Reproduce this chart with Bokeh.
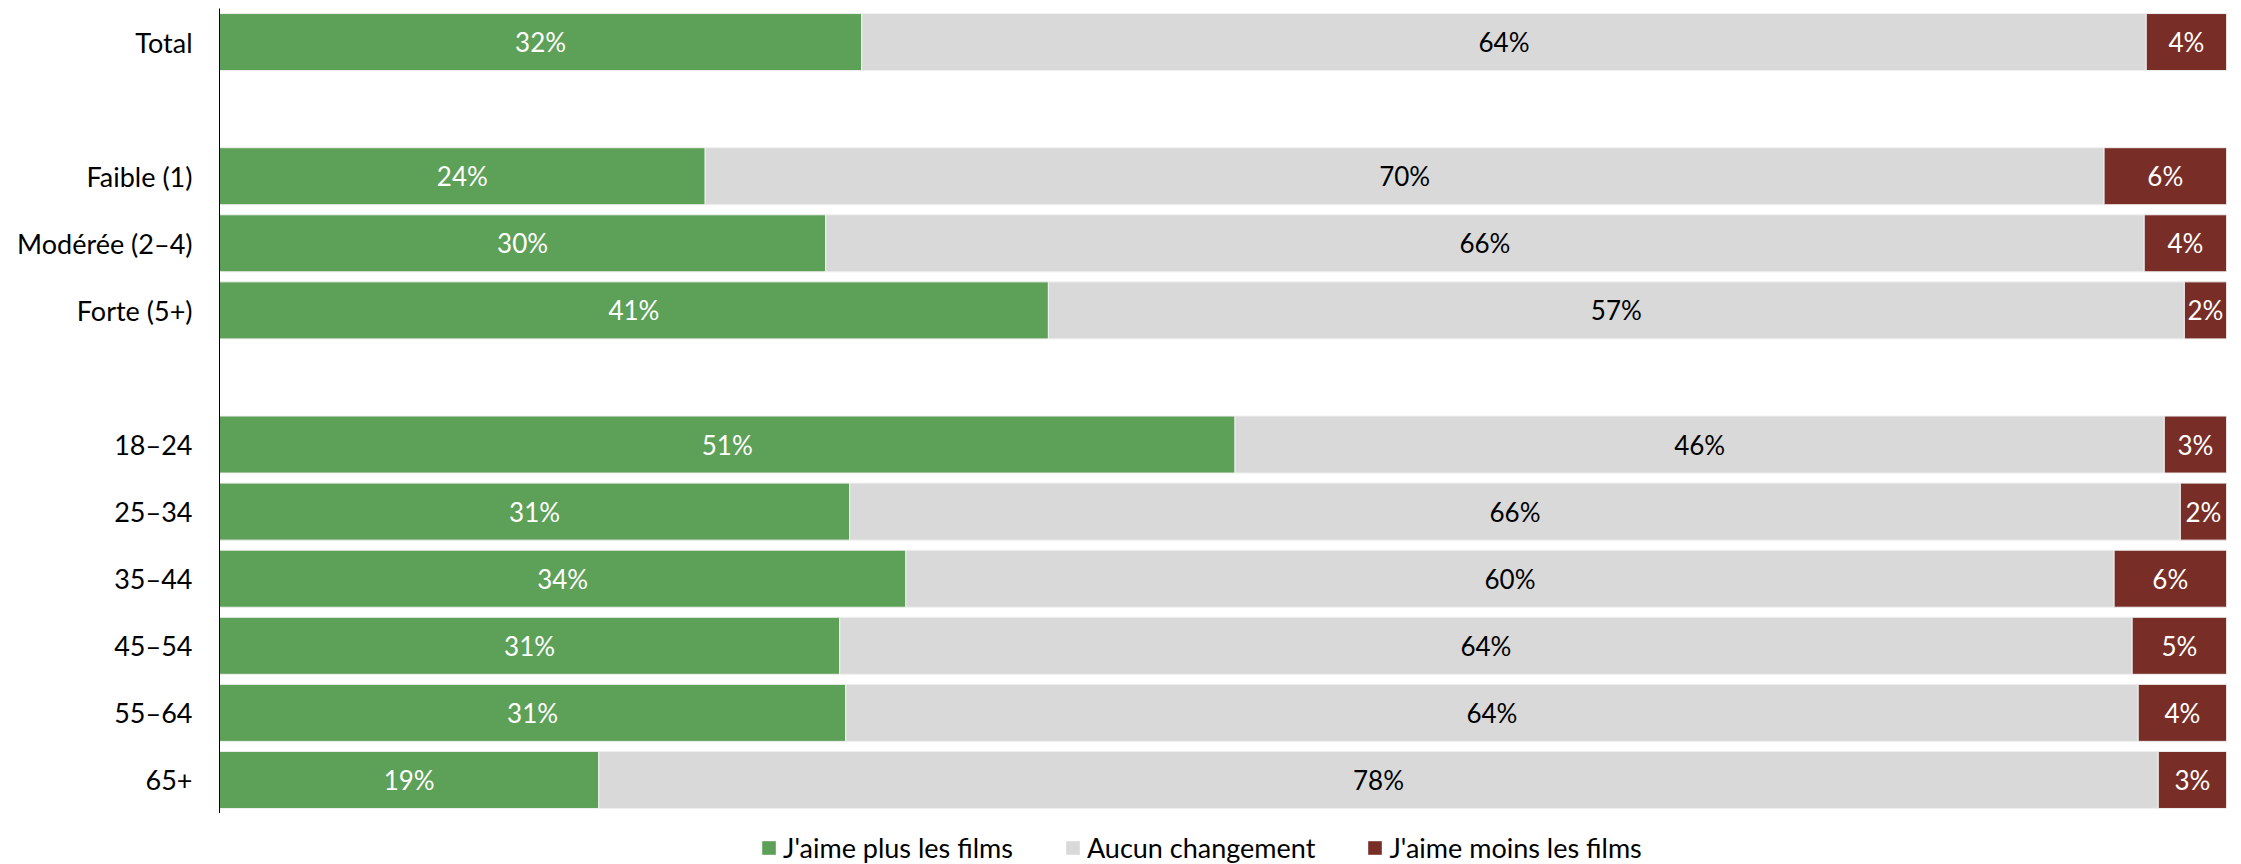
from bokeh.plotting import figure
from bokeh.layouts import column
from bokeh.models import ColumnDataSource, Range1d, FixedTicker, Legend, LegendItem
from bokeh.core.properties import value
from bokeh.embed import file_html
from bokeh.resources import INLINE

# ---- data ----
groups = [
    ["Total"],
    ["Faible (1)", "Modérée (2–4)", "Forte (5+)"],
    ["18–24", "25–34", "35–44", "45–54", "55–64", "65+"],
]
plus_films = [32.0, 24.2, 30.2, 41.3, 50.6, 31.4, 34.2, 30.9, 31.2, 18.9]
aucun_changement = [64.0, 69.7, 65.7, 56.6, 46.3, 66.3, 60.2, 64.4, 64.4, 77.7]
moins_films = [4.0, 6.1, 4.1, 2.1, 3.1, 2.3, 5.6, 4.7, 4.4, 3.4]
series_names = ["J'aime plus les films", "Aucun changement", "J'aime moins les films"]
series_keys = ["plus", "aucun", "moins"]
colors = ["#5DA057", "#D9D9D9", "#782E26"]
label_colors = ["white", "black", "white"]

FONT = "Lato"

# positions: one empty slot between groups
categories, ypos = [], []
slot = 0
for gi, g in enumerate(groups):
    if gi > 0:
        slot += 1
    for c in g:
        categories.append(c)
        ypos.append(slot)
        slot += 1
n_slots = slot

src = ColumnDataSource(dict(y=ypos, cat=categories, plus=plus_films,
                            aucun=aucun_changement, moins=moins_films))

p = figure(width=2241, height=813, output_backend="svg", toolbar_location=None,
           x_range=Range1d(0, 100), y_range=Range1d(n_slots - 0.5, -0.5),
           x_axis_location=None, min_border_left=219, min_border_right=15,
           min_border_top=8, min_border_bottom=0)
p.outline_line_color = None
p.xgrid.visible = False
p.ygrid.visible = False
p.background_fill_color = "white"
p.border_fill_color = "white"

renderers = p.hbar_stack(series_keys, y="y", height=0.85, color=colors,
                         line_color="#F0F0F0", line_width=1, source=src)

# labels
series_vals = [plus_films, aucun_changement, moins_films]
for si, vals in enumerate(series_vals):
    xs, ys, txt = [], [], []
    for i, v in enumerate(vals):
        left = sum(series_vals[k][i] for k in range(si))
        xs.append(left + v / 2)
        ys.append(ypos[i])
        txt.append(f"{round(v)}%")
    p.text(x=xs, y=ys, text=txt, text_align="center", text_baseline="middle",
           text_font=value(FONT), text_font_size="26px", text_color=label_colors[si])

ax = p.yaxis[0]
ax.ticker = FixedTicker(ticks=ypos)
ax.major_label_overrides = {y: c for y, c in zip(ypos, categories)}
ax.major_tick_line_color = None
ax.minor_tick_line_color = None
ax.major_tick_out = 0
ax.major_tick_in = 0
ax.major_label_standoff = 27
ax.axis_line_color = "black"
ax.axis_line_width = 1
ax.major_label_text_font = FONT
ax.major_label_text_font_size = "27px"
ax.major_label_text_color = "black"

# legend strip below the chart (same stacked bars, kept outside its visible range)
lg = figure(width=2241, height=51, output_backend="svg", toolbar_location=None,
            x_range=Range1d(0, 100), y_range=Range1d(n_slots + 50, n_slots + 51),
            x_axis_location=None, y_axis_location=None,
            min_border_left=219, min_border_right=15, min_border_top=10, min_border_bottom=0)
lg.outline_line_color = None
lg.xgrid.visible = False
lg.ygrid.visible = False
lg.background_fill_color = "white"
lg.border_fill_color = "white"
lg_renderers = lg.hbar_stack(series_keys, y="y", height=0.85, color=colors,
                             line_color=None, source=src)
lg_items = [LegendItem(label=n, renderers=[r]) for n, r in zip(series_names, lg_renderers)]

legend = Legend(items=lg_items, orientation="horizontal", location=(541, 0),
                padding=0, margin=0, border_line_color=None, background_fill_alpha=0,
                glyph_width=17, glyph_height=17, label_standoff=6, spacing=51,
                label_text_font=FONT, label_text_font_size="27px",
                label_text_color="black", label_text_baseline="middle")
lg.add_layout(legend, "center")

layout = column(p, lg, spacing=0)
open("out.html", "w").write(file_html(layout, INLINE))
